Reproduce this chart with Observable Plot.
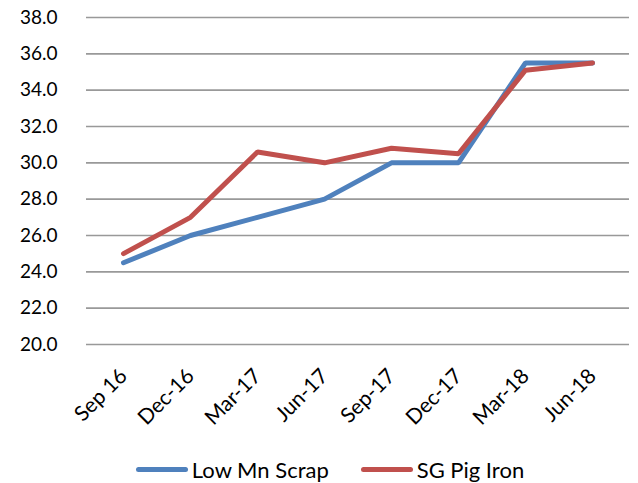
<!DOCTYPE html>
<html>
<head>
<meta charset="utf-8">
<script src="https://cdn.jsdelivr.net/npm/d3@7"></script>
<script src="https://cdn.jsdelivr.net/npm/@observablehq/plot@0.6"></script>
<style>
  html, body { margin: 0; padding: 0; background: #fff; }
  #chart { width: 638px; }
  .legend { display: flex; justify-content: center; align-items: center; gap: 32px;
            font-family: Lato, "Open Sans", sans-serif; font-size: 22px; color: #000;
            height: 36px; margin-top: 5px; margin-left: 22px; }
  .legend .item { display: flex; align-items: center; gap: 4px; }
  .legend .swatch { width: 52px; height: 5px; border-radius: 3px; }
</style>
</head>
<body>
<div id="chart"></div>
<script>
// Quarterly prices
const quarters = ["Sep 16", "Dec-16", "Mar-17", "Jun-17", "Sep-17", "Dec-17", "Mar-18", "Jun-18"];
const lowMnScrap = [24.5, 26.0, 27.0, 28.0, 30.0, 30.0, 35.5, 35.5];
const sgPigIron = [25.0, 27.0, 30.6, 30.0, 30.8, 30.5, 35.1, 35.5];
const yTicks = [20, 22, 24, 26, 28, 30, 32, 34, 36, 38];

const seriesNames = ["Low Mn Scrap", "SG Pig Iron"];
const seriesColors = ["#4F81BD", "#C0504D"];
const seriesValues = [lowMnScrap, sgPigIron];

const rows = seriesNames.flatMap((name, s) =>
  quarters.map((q, i) => ({series: name, quarter: q, value: seriesValues[s][i]}))
);

const chart = Plot.plot({
  width: 638,
  height: 446,
  marginLeft: 86,
  marginRight: 9,
  marginTop: 17,
  marginBottom: 102,
  style: {fontFamily: "Lato, 'Open Sans', sans-serif", fontSize: "19px", color: "#000", background: "#fff"},
  x: {type: "point", domain: quarters, padding: 0.5, label: null},
  y: {domain: [20, 38], label: null},
  color: {domain: seriesNames, range: seriesColors},
  marks: [
    Plot.ruleY(yTicks, {stroke: "#999", strokeWidth: 1.6, strokeOpacity: 1}),
    Plot.axisY({ticks: yTicks, tickSize: 0, tickPadding: 29, tickFormat: d => d.toFixed(1), label: null}),
    Plot.axisX({tickSize: 0, tickRotate: -45, tickPadding: 28, label: null, fontSize: 21}),
    Plot.line(rows, {x: "quarter", y: "value", z: "series", stroke: "series",
                     strokeWidth: 5, strokeLinejoin: "miter", strokeLinecap: "round"})
  ]
});
document.getElementById("chart").appendChild(chart);

// Legend below the plot
const legend = document.createElement("div");
legend.className = "legend";
seriesNames.forEach((name, i) => {
  const item = document.createElement("div");
  item.className = "item";
  const sw = document.createElement("span");
  sw.className = "swatch";
  sw.style.background = seriesColors[i];
  const label = document.createElement("span");
  label.textContent = name;
  item.appendChild(sw);
  item.appendChild(label);
  legend.appendChild(item);
});
document.getElementById("chart").appendChild(legend);
</script>
</body>
</html>
